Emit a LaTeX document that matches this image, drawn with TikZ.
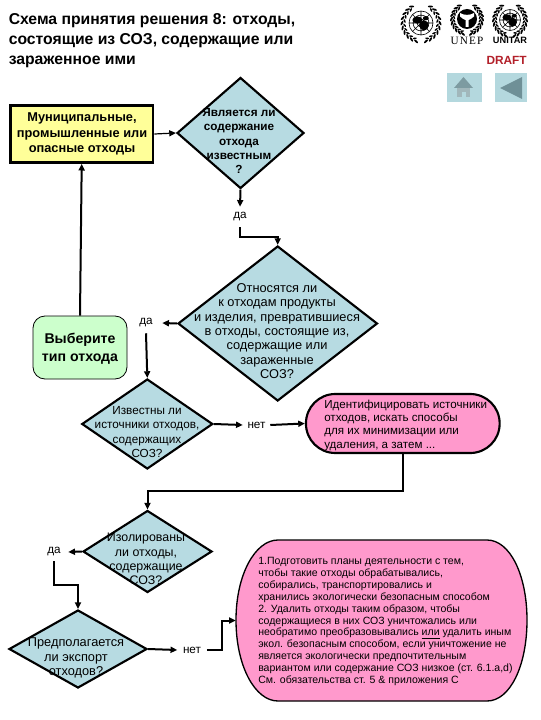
\documentclass[tikz,border=0pt]{standalone}
\usepackage{fontspec}
\setmainfont{Liberation Sans}
\newfontfamily\unepfont[LetterSpace=10]{Liberation Serif}
\usetikzlibrary{shapes.geometric,arrows.meta,calc}
\definecolor{dblue}{HTML}{B7DBE2}
\definecolor{yel}{HTML}{FFFF99}
\definecolor{grn}{HTML}{CCFFCC}
\definecolor{pnk}{HTML}{FF99CC}
\definecolor{btn}{HTML}{B4D8DE}
\definecolor{btnd}{HTML}{6F9097}
\definecolor{drf}{HTML}{B3202A}
\newcommand{\mywreath}[3]{%
  \foreach \a in {75,60,...,-60}{
    \fill[black,shift={({#1+#3*cos(\a)},{#2+#3*sin(\a)})},rotate={-\a+90+28}] (0,0) ellipse [x radius=2.6,y radius=1];
    \fill[black,shift={({#1-#3*cos(\a)},{#2+#3*sin(\a)})},rotate={\a-90-28}] (0,0) ellipse [x radius=2.6,y radius=1];
  }
  \foreach \a in {68,53,...,-52}{
    \fill[black,shift={({#1+(#3-2.5)*cos(\a)},{#2+(#3-2.5)*sin(\a)})},rotate={-\a+90-28}] (0,0) ellipse [x radius=2,y radius=0.8];
    \fill[black,shift={({#1-(#3-2.5)*cos(\a)},{#2+(#3-2.5)*sin(\a)})},rotate={\a-90+28}] (0,0) ellipse [x radius=2,y radius=0.8];
  }
}
\newcommand{\myglobe}[3]{%
  \fill[white] (#1,#2) circle (#3);
  \draw[black,line width=0.45pt] (#1,#2) circle (#3) (#1,#2) circle ({#3*0.66}) (#1,#2) circle ({#3*0.33})
    ({#1-#3},#2) -- ({#1+#3},#2) (#1,{#2-#3}) -- (#1,{#2+#3})
    ({#1-0.7*#3},{#2-0.7*#3}) -- ({#1+0.7*#3},{#2+0.7*#3}) ({#1-0.7*#3},{#2+0.7*#3}) -- ({#1+0.7*#3},{#2-0.7*#3});
  \fill[black] ({#1-0.3*#3},{#2-0.25*#3}) ellipse [x radius={0.42*#3},y radius={0.3*#3}];
  \fill[black] ({#1+0.25*#3},{#2+0.2*#3}) ellipse [x radius={0.4*#3},y radius={0.42*#3}];
  \fill[black] ({#1+0.4*#3},{#2-0.4*#3}) ellipse [x radius={0.25*#3},y radius={0.18*#3}];
}
\tikzset{
  x=0.75pt,y=-0.75pt,
  dia/.style 2 args={diamond,draw=black,line width=1.6pt,fill=dblue,inner sep=0pt,minimum width=#1*0.75pt,minimum height=#2*0.75pt},
  boxsize/.style 2 args={inner sep=0pt,minimum width=#1*0.75pt,minimum height=#2*0.75pt},
  lab/.style={align=center,inner sep=0pt},
  wrd/.style 2 args={inner sep=0pt,minimum width=#1*0.75pt,minimum height=#2*0.75pt,font=\fontsize{8.8pt}{10pt}\selectfont},
  conn/.style={line width=1.5pt,-{Triangle[length=5pt,width=4.5pt]}},
  thinconn/.style={line width=0.9pt,-{Triangle[length=5pt,width=4.5pt]}},
}
\begin{document}
\begin{tikzpicture}
\useasboundingbox (0,0) rectangle (540,720);
\fill[white] (0,0) rectangle (540,720);

% title
\node[anchor=north west,inner sep=0pt,align=left,font=\bfseries\fontsize{11.8pt}{14.8pt}\selectfont] (title) at (8.5,13.5)
 {Схема принятия решения 8: отходы,\\состоящие из СОЗ, содержащие или\\зараженное ими};

% logos
\mywreath{421}{23}{19}
\myglobe{421}{23}{12}
\mywreath{467}{19}{15.5}
\fill[black] (467,19) circle (10);
\fill[white] (460,13) .. controls (464,15.5) and (470,15.5) .. (474,13) -- (474,16.5) .. controls (472,19) and (470,19) .. (468.5,20) -- (468.5,27) -- (465.5,27) -- (465.5,20) .. controls (464,19) and (462,19) .. (460,16.5) -- cycle;
\node[inner sep=0pt,font=\unepfont\fontsize{8.4pt}{9pt}\selectfont] (uneptext) at (467,41) {UNEP};
\mywreath{510}{20}{16.5}
\myglobe{510}{20}{10.5}
\node[inner sep=0pt,font=\bfseries\fontsize{6.9pt}{8pt}\selectfont] (unitar) at (510,40) {UNITAR};
\node[anchor=east,inner sep=0pt,text=drf,font=\bfseries\fontsize{8.9pt}{10pt}\selectfont] (draft) at (527,60.5) {DRAFT};

% buttons
\fill[btn] (447,73) rectangle (482,102);
\fill[btn] (495,73) rectangle (527,102);
\fill[btnd!90] (454,88) -- (463.5,77) -- (473,88) -- cycle;
\fill[btnd!65] (457,88) rectangle (470,97);
\fill[btn] (462,92) rectangle (466,97);
\fill[btnd] (500,88) -- (522,77) -- (522,99) -- cycle;

% shapes
\node[draw=black,line width=2pt,fill=yel,boxsize={142.7}{57}] (waste) at (81.7,134) {};
\node[dia={127}{111}] (d1) at (240.5,133) {};
\node[dia={199.5}{155}] (d2) at (277.7,323.5) {};
\node[dia={131}{90}] (d3) at (147.3,424) {};
\node[dia={129}{82}] (d4) at (147.5,551.5) {};
\node[dia={138}{78}] (d5) at (78,649) {};
\node[draw=black,line width=0.6pt,fill=grn,rounded corners=9pt,boxsize={94}{63}] (type) at (80,347.5) {};
\node[draw=black,line width=1.6pt,fill=pnk,rounded corners=22pt,boxsize={193.7}{59}] (p1) at (402.8,423.5) {};
\filldraw[draw=black,line width=1pt,fill=pnk]
  (278,540) -- (487,540) .. controls (510,540) and (527,575) .. (527,620)
  .. controls (527,666) and (510,701) .. (487,701)
  -- (278,701) .. controls (255,701) and (236,666) .. (236,620)
  .. controls (236,575) and (255,540) .. (278,540) -- cycle;
\node[boxsize={291}{161}] (p2) at (381.5,620.5) {};

% texts
\node[lab,font=\bfseries\fontsize{9.6pt}{11.9pt}\selectfont] (wastet) at (82,134) {Муниципальные,\\промышленные или\\опасные отходы};
\node[lab,font=\bfseries\fontsize{8.8pt}{10.6pt}\selectfont] (d1t) at (239,141) {Является ли\\содержание\\отхода\\известным\\?};
\node[lab,font=\fontsize{9.6pt}{10.8pt}\selectfont] (d2t) at (277,331) {Относятся ли\\к отходам продукты\\и изделия, превратившиеся\\в отходы, состоящие из,\\содержащие или\\зараженные\\СОЗ?};
\node[lab,font=\fontsize{8.8pt}{10.6pt}\selectfont] (d3t) at (147,432) {Известны ли\\источники отходов,\\содержащих\\СОЗ?};
\node[lab,font=\fontsize{9.3pt}{10.8pt}\selectfont] (d4t) at (146,559) {Изолированы\\ли отходы,\\содержащие\\СОЗ?};
\node[lab,font=\fontsize{9.6pt}{10.9pt}\selectfont] (d5t) at (76,658) {Предполагается\\ли экспорт\\отходов?};
\node[lab,font=\bfseries\fontsize{10.6pt}{13.3pt}\selectfont] (typet) at (80,349) {Выберите\\тип отхода};
\node[anchor=west,align=left,inner sep=0pt,font=\fontsize{8.7pt}{10pt}\selectfont] (p1t) at (324,425) {Идентифицировать источники\\отходов, искать способы\\для их минимизации или\\удаления, а затем ...};
\node[anchor=west,align=left,inner sep=0pt,font=\fontsize{7.9pt}{8.87pt}\selectfont] (p2t) at (258,621.5) {1.Подготовить планы деятельности с тем,\\чтобы такие отходы обрабатывались,\\собирались, транспортировались и\\хранились экологически безопасным способом\\2. Удалить отходы таким образом, чтобы\\содержащиеся в них СОЗ уничтожались  или\\необратимо преобразовывались \underline{или} удалить иным\\экол. безопасным способом, если уничтожение не\\является экологически предпочтительным\\вариантом или содержание СОЗ низкое  (ст. 6.1.a,d)\\См. обязательства ст. 5 \& приложения С};

% yes/no words
\node[wrd={20}{20}] (da1) at (240,217) {да};
\node[wrd={32}{20}] (da2) at (146,323) {да};
\node[wrd={27}{20}] (net1) at (256.5,425) {нет};
\node[wrd={28}{18}] (da3) at (54,552) {да};
\node[wrd={29}{20}] (net2) at (192,650) {нет};

% connectors
\draw[thinconn] (waste.east) -- (d1.west);
\draw[conn] (type.north) -- (waste.south);
\draw[conn] (d1.south) -- (da1.north);
\draw[conn] (da1.south) -- ++(0,10) -| (d2.north);
\draw[conn] (d2.west) -- (da2.east);
\draw[conn] (da2.south) -- (d3.north);
\draw[conn] (d3.east) -- (net1.west);
\draw[conn] (net1.east) -- (p1.west);
\draw[conn] (p1.south) -- ++(0,37) -| (d4.north);
\draw[conn] (d4.west) -- (da3.east);
\draw[conn] (da3.south) -- ++(0,24) -| (d5.north);
\draw[conn] (d5.east) -- (net2.west);
\draw[conn] (net2.east) -- ++(15,0) |- (p2.west);
\end{tikzpicture}
\end{document}
